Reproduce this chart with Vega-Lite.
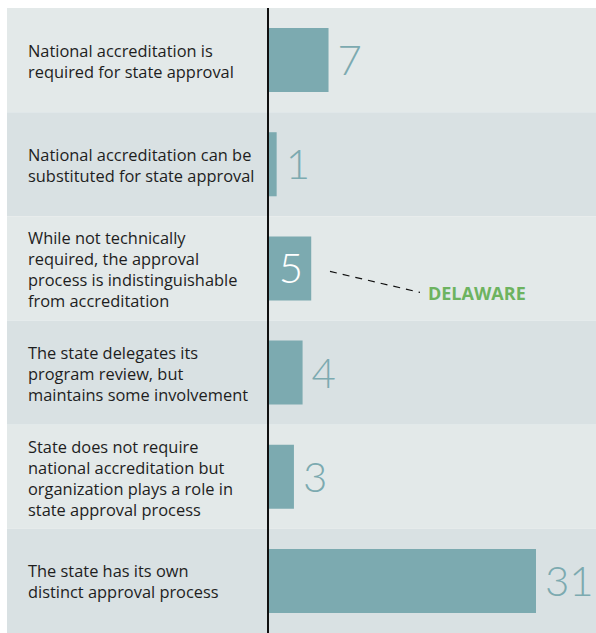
{
  "$schema": "https://vega.github.io/schema/vega-lite/v6.json",
  "width": 589,
  "height": 625,
  "autosize": {"type": "none"},
  "padding": {"left": 7, "top": 8, "right": 0, "bottom": 0},
  "background": "white",
  "config": {"view": {"stroke": null}},
  "data": {
    "values": [
      {"order": 1, "category": "National accreditation is\nrequired for state approval", "value": 7, "note": null},
      {"order": 2, "category": "National accreditation can be\nsubstituted for state approval", "value": 1, "note": null},
      {"order": 3, "category": "While not technically\nrequired, the approval\nprocess is indistinguishable\nfrom accreditation", "value": 5, "note": "DELAWARE"},
      {"order": 4, "category": "The state delegates its\nprogram review, but\nmaintains some involvement", "value": 4, "note": null},
      {"order": 5, "category": "State does not require\nnational accreditation but\norganization plays a role in\nstate approval process", "value": 3, "note": null},
      {"order": 6, "category": "The state has its own\ndistinct approval process", "value": 31, "note": null}
    ]
  },
  "layer": [
    {
      "mark": {"type": "rect"},
      "encoding": {
        "y": {"field": "category", "type": "nominal", "sort": null, "axis": null, "scale": {"paddingInner": 0, "paddingOuter": 0}},
        "color": {
          "condition": {"test": "datum.order % 2 == 0", "value": "#d9e1e3"},
          "value": "#e3e9e9"
        }
      }
    },
    {
      "mark": {"type": "bar", "color": "#7caab0", "height": {"band": 0.615}},
      "encoding": {
        "y": {"field": "category", "type": "nominal", "sort": null},
        "x": {
          "field": "value",
          "type": "quantitative",
          "axis": null,
          "scale": {"domain": [-30.19, 37.94], "nice": false, "zero": false}
        }
      }
    },
    {
      "mark": {"type": "rule", "color": "#111111", "strokeWidth": 1.5},
      "encoding": {"x": {"datum": 0, "type": "quantitative"}}
    },
    {
      "transform": [{"filter": "length(split(datum.category, '\\n')) == 2"}],
      "mark": {"type": "text", "align": "left", "baseline": "middle", "lineBreak": "\n", "lineHeight": 21, "dy": -8.5, "fontSize": 16.4, "font": "Open Sans", "color": "#1e1e1e"},
      "encoding": {
        "y": {"field": "category", "type": "nominal", "sort": null},
        "x": {"datum": -27.76, "type": "quantitative"},
        "text": {"field": "category"}
      }
    },
    {
      "transform": [{"filter": "length(split(datum.category, '\\n')) == 3"}],
      "mark": {"type": "text", "align": "left", "baseline": "middle", "lineBreak": "\n", "lineHeight": 21, "dy": -18.5, "fontSize": 16.4, "font": "Open Sans", "color": "#1e1e1e"},
      "encoding": {
        "y": {"field": "category", "type": "nominal", "sort": null},
        "x": {"datum": -27.76, "type": "quantitative"},
        "text": {"field": "category"}
      }
    },
    {
      "transform": [{"filter": "length(split(datum.category, '\\n')) == 4"}],
      "mark": {"type": "text", "align": "left", "baseline": "middle", "lineBreak": "\n", "lineHeight": 21, "dy": -29, "fontSize": 16.4, "font": "Open Sans", "color": "#1e1e1e"},
      "encoding": {
        "y": {"field": "category", "type": "nominal", "sort": null},
        "x": {"datum": -27.76, "type": "quantitative"},
        "text": {"field": "category"}
      }
    },
    {
      "transform": [{"filter": "datum.note == null"}],
      "mark": {"type": "text", "align": "left", "baseline": "middle", "dx": 9, "dy": 2, "fontSize": 42, "font": "Lato", "fontWeight": 300, "color": "#7caab0"},
      "encoding": {
        "y": {"field": "category", "type": "nominal", "sort": null},
        "x": {"field": "value", "type": "quantitative"},
        "text": {"field": "value", "type": "quantitative"}
      }
    },
    {
      "transform": [{"filter": "datum.note != null"}],
      "mark": {"type": "text", "align": "right", "baseline": "middle", "dx": -8, "dy": 2, "fontSize": 42, "font": "Lato", "fontWeight": 300, "color": "#ffffff"},
      "encoding": {
        "y": {"field": "category", "type": "nominal", "sort": null},
        "x": {"field": "value", "type": "quantitative"},
        "text": {"field": "value", "type": "quantitative"}
      }
    },
    {
      "transform": [{"filter": "datum.note != null"}],
      "mark": {"type": "rule", "color": "#111111", "strokeWidth": 1.2, "strokeDash": [7, 6], "yOffset": 3, "y2Offset": 24},
      "encoding": {
        "y": {"field": "category", "type": "nominal", "sort": null},
        "x": {"datum": 7.17, "type": "quantitative"},
        "x2": {"datum": 17.58},
        "y2": {"field": "category"}
      }
    },
    {
      "transform": [{"filter": "datum.note != null"}],
      "mark": {"type": "text", "align": "left", "baseline": "middle", "dy": 27, "fontSize": 18, "font": "Open Sans", "fontWeight": "bold", "color": "#6db35f"},
      "encoding": {
        "y": {"field": "category", "type": "nominal", "sort": null},
        "x": {"datum": 18.5, "type": "quantitative"},
        "text": {"field": "note"}
      }
    }
  ]
}
